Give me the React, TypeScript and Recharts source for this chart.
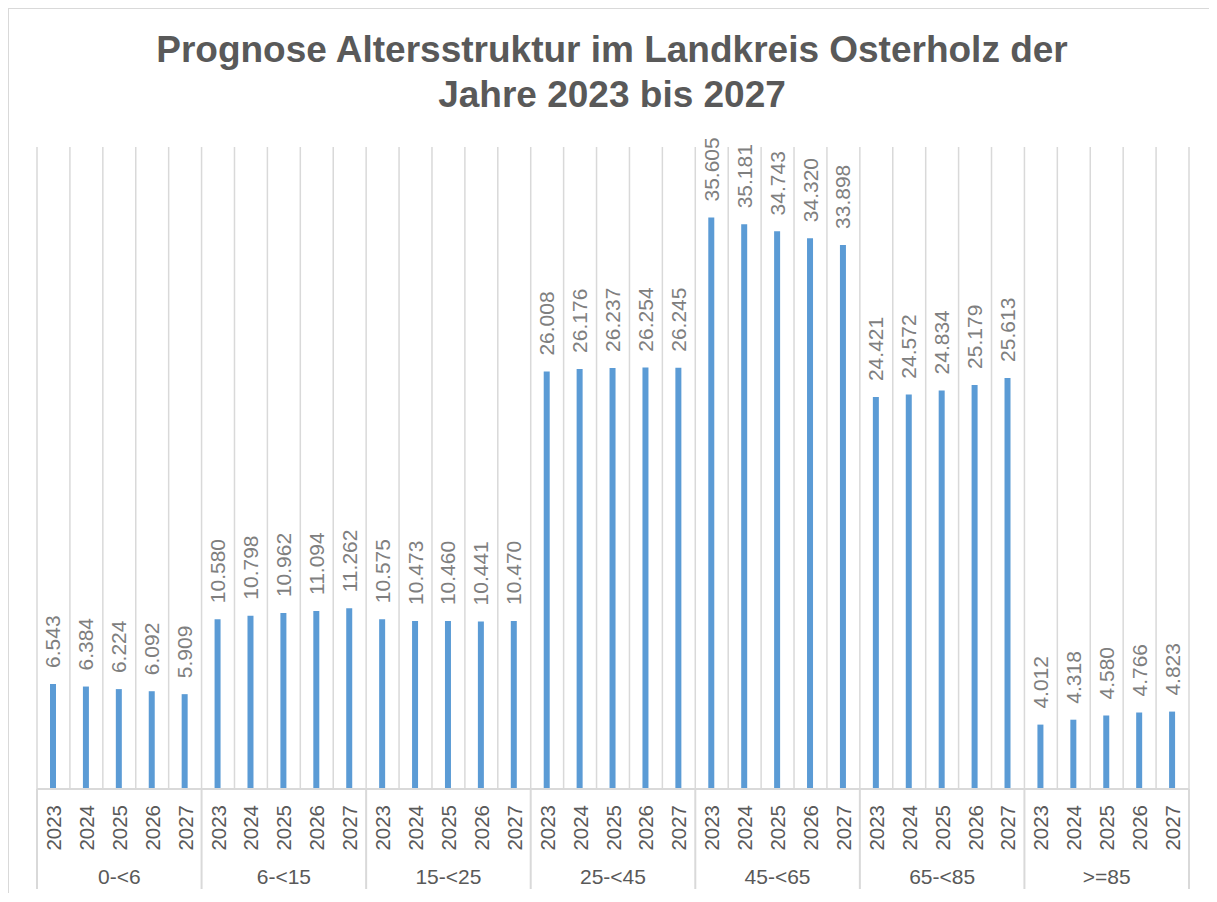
import { BarChart, Bar, XAxis, YAxis, CartesianGrid, LabelList } from 'recharts'

const AGE_GROUPS = ['0-<6', '6-<15', '15-<25', '25-<45', '45-<65', '65-<85', '>=85']
const YEARS = ['2023', '2024', '2025', '2026', '2027']

const AGE_0_6 = [6543, 6384, 6224, 6092, 5909]
const AGE_6_15 = [10580, 10798, 10962, 11094, 11262]
const AGE_15_25 = [10575, 10473, 10460, 10441, 10470]
const AGE_25_45 = [26008, 26176, 26237, 26254, 26245]
const AGE_45_65 = [35605, 35181, 34743, 34320, 33898]
const AGE_65_85 = [24421, 24572, 24834, 25179, 25613]
const AGE_85_PLUS = [4012, 4318, 4580, 4766, 4823]

const SERIES = [AGE_0_6, AGE_6_15, AGE_15_25, AGE_25_45, AGE_45_65, AGE_65_85, AGE_85_PLUS]

const data = AGE_GROUPS.flatMap((group, gi) =>
  YEARS.map((year, yi) => ({
    key: `${group}|${year}`,
    group,
    year,
    value: SERIES[gi][yi],
  })),
)

const CHART_W = 1200
const CHART_H = 884
const MARGIN = { top: 138, right: 20, left: 28, bottom: 0 }
const PLOT_W = CHART_W - MARGIN.left - MARGIN.right
const BAND = PLOT_W / data.length

const GRID = '#d9d9d9'
const AXIS_TEXT = '#595959'
const FONT = '"Liberation Sans", Arial, sans-serif'

function CategoryTick(props: any) {
  const { x, y, payload } = props
  const i = payload.index
  const d = data[i]
  const left = x - BAND / 2
  return (
    <g>
      <text
        x={x}
        y={y + 16}
        transform={`rotate(-90 ${x} ${y + 16})`}
        textAnchor="end"
        dominantBaseline="central"
        fill={AXIS_TEXT}
        fontSize={20.5}
        fontFamily={FONT}
      >
        {d.year}
      </text>
      {i % YEARS.length === 0 && <line x1={left} x2={left} y1={y} y2={y + 100} stroke={GRID} strokeWidth={2} />}
      {i === data.length - 1 && (
        <line x1={left + BAND} x2={left + BAND} y1={y} y2={y + 100} stroke={GRID} strokeWidth={2} />
      )}
      {i % YEARS.length === 2 && (
        <text
          x={x}
          y={y + 87}
          textAnchor="middle"
          dominantBaseline="central"
          fill={AXIS_TEXT}
          fontSize={21}
          fontFamily={FONT}
        >
          {d.group}
        </text>
      )}
    </g>
  )
}

function ValueLabel(props: any) {
  const { x, y, width, value } = props
  const cx = x + width / 2
  const ty = y - 16
  return (
    <text
      x={cx}
      y={ty}
      transform={`rotate(-90 ${cx} ${ty})`}
      textAnchor="start"
      dominantBaseline="central"
      fill="#7f7f7f"
      fontSize={21}
      fontFamily={FONT}
    >
      {Number(value).toLocaleString('de-DE')}
    </text>
  )
}

export default function App() {
  return (
    <div
      style={{
        position: 'relative',
        marginLeft: -1,
        marginTop: -1,
        width: CHART_W,
        height: CHART_H,
        borderTop: `2px solid ${GRID}`,
        borderLeft: `2px solid ${GRID}`,
        fontFamily: FONT,
      }}
    >
      <div
        style={{
          position: 'absolute',
          left: 0,
          top: 18,
          width: 1206,
          textAlign: 'center',
          fontSize: 37,
          lineHeight: '45px',
          fontWeight: 'bold',
          color: AXIS_TEXT,
        }}
      >
        Prognose Altersstruktur im Landkreis Osterholz der
        <br />
        Jahre 2023 bis 2027
      </div>
      <BarChart width={CHART_W} height={CHART_H} data={data} margin={MARGIN}>
        <CartesianGrid
          vertical
          horizontal={false}
          stroke={GRID}
          strokeWidth={1.5}
          verticalCoordinatesGenerator={({ offset }: any) =>
            Array.from({ length: data.length + 1 }, (_, i) => offset.left + (i * offset.width) / data.length)
          }
        />
        <XAxis
          dataKey="key"
          interval={0}
          height={104}
          tickLine={false}
          tickSize={0}
          tickMargin={0}
          axisLine={{ stroke: GRID, strokeWidth: 2 }}
          tick={<CategoryTick />}
        />
        <YAxis hide domain={[0, 40000]} />
        <Bar dataKey="value" fill="#5b9bd5" barSize={6} isAnimationActive={false}>
          <LabelList dataKey="value" content={<ValueLabel />} />
        </Bar>
      </BarChart>
    </div>
  )
}
